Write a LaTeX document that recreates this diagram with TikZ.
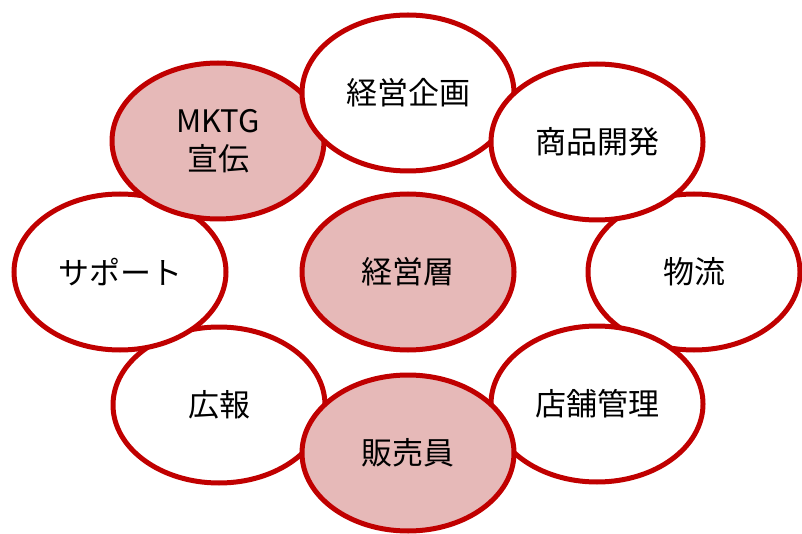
\documentclass[tikz,border=0pt]{standalone}
\usepackage{fontspec}
\newfontfamily\jp{Noto Sans CJK JP}
\usetikzlibrary{shapes.geometric}
\definecolor{ring}{RGB}{192,0,0}
\definecolor{pinkfill}{RGB}{230,185,184}
\tikzset{
  bubble/.style={ellipse, draw=ring, line width=5pt, fill=white, inner sep=0pt,
    minimum width=212pt, minimum height=156pt, align=center,
    font=\jp\fontsize{31}{38}\selectfont, text=black},
  hot/.style={bubble, fill=pinkfill}
}
\begin{document}
\begin{tikzpicture}[x=1pt,y=-1pt]
\useasboundingbox (0,0) rectangle (802,534);
\node[bubble] (butsuryu) at (694,272) {物流};
\node[bubble] (koho) at (219,405) {広報};
\node[bubble] (support) at (120,272) {サポート};
\node[hot] (mktg) at (218,141) {MKTG\\宣伝};
\node[bubble] (kikaku) at (408,93) {経営企画};
\node[bubble] (shohin) at (597,142) {商品開発};
\node[bubble] (tenpo) at (597,404) {店舗管理};
\node[hot] (hanbai) at (408,453) {販売員};
\node[hot] (keiei) at (408,272) {経営層};
\end{tikzpicture}
\end{document}
